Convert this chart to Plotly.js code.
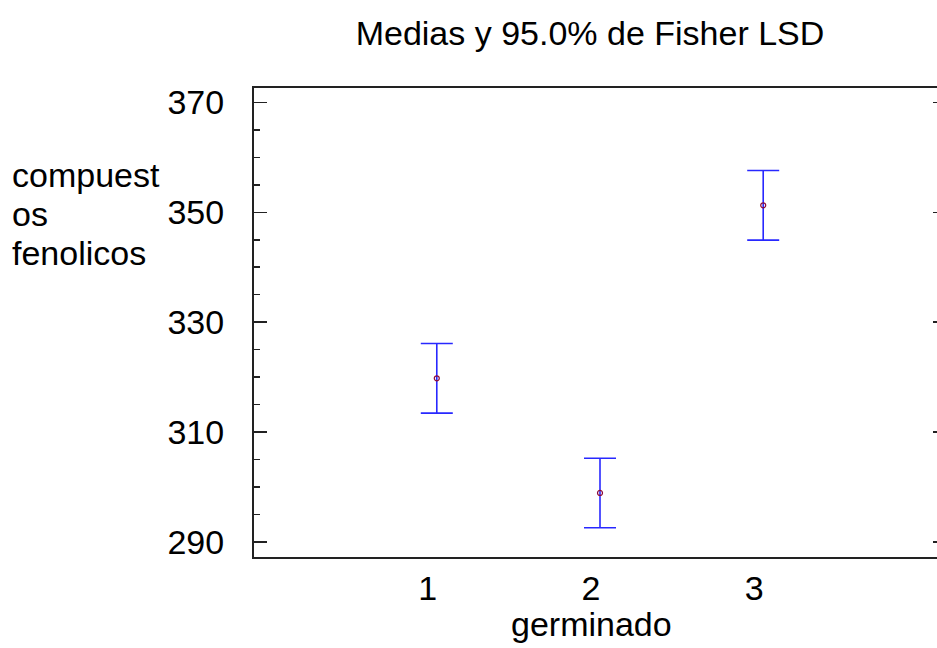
<!DOCTYPE html>
<html>
<head>
<meta charset="utf-8">
<script src="https://cdn.plot.ly/plotly-3.0.1.min.js"></script>
<style>
html,body{margin:0;padding:0;overflow:hidden;background:#fff;width:937px;height:648px;}
#chart{width:950px;height:648px;}
</style>
</head>
<body>
<div id="chart"></div>
<script>
// Data
const groups = [1, 2, 3];
const groupLabels = ["1", "2", "3"];
const means = [319.8, 298.95, 351.27];
const lsdHalf = [6.33, 6.32, 6.33];
const yTicks = [290, 310, 330, 350, 370];
const yTitleLines = ["compuest", "os", "fenolicos"];

const F = "Liberation Sans, Arial, Helvetica, sans-serif";
const FS = 34;

const trace = {
  x: groups,
  y: means,
  type: "scatter",
  mode: "markers",
  marker: {symbol: "circle-open", size: 5, color: "#8b0a3a", line: {width: 1.2, color: "#8b0a3a"}},
  error_y: {type: "data", array: lsdHalf, visible: true, color: "rgb(40,40,255)", thickness: 1.6, width: 16},
  showlegend: false,
  hoverinfo: "skip"
};

const plotTop = 88, plotBottom = 557, plotLeft = 254, plotH = 469, plotW = 692;
const yTitleCenters = [175, 214, 253];

const annotations = [
  {
    text: "germinado", xref: "paper", yref: "paper",
    x: (591 - plotLeft) / plotW, y: -(624 - plotBottom) / plotH,
    xanchor: "center", yanchor: "middle", showarrow: false,
    font: {family: F, size: FS, color: "#000"}
  }
].concat(yTitleLines.map((t, i) => ({
  text: t, xref: "paper", yref: "paper",
  x: -(plotLeft - 10) / plotW, y: (plotBottom - yTitleCenters[i]) / plotH,
  xanchor: "left", yanchor: "middle", align: "left", showarrow: false,
  font: {family: F, size: FS, color: "#000"}
})));

const layout = {
  width: 950,
  height: 648,
  margin: {l: plotLeft, r: 4, t: plotTop, b: 648 - plotBottom},
  paper_bgcolor: "#fff",
  plot_bgcolor: "#fff",
  font: {family: F, color: "#000"},
  xaxis: {
    range: [-0.12, 4.12],
    tickmode: "array",
    tickvals: groups,
    ticktext: groupLabels,
    ticks: "",
    showgrid: false,
    zeroline: false,
    showline: true,
    linecolor: "#222",
    linewidth: 2,
    mirror: true,
    tickfont: {family: F, size: FS, color: "#000"},
    ticklabelshift: -9,
    ticklabelstandoff: 0
  },
  yaxis: {
    range: [287.3, 372.6],
    tickmode: "array",
    tickvals: yTicks,
    ticktext: yTicks.map(String),
    ticks: "inside",
    ticklen: 13,
    tickwidth: 1.5,
    tickcolor: "#222",
    minor: {dtick: 5, tick0: 290, ticks: "inside", ticklen: 6, tickwidth: 1.5, tickcolor: "#222", showgrid: false},
    showgrid: false,
    zeroline: false,
    showline: true,
    linecolor: "#222",
    linewidth: 2,
    mirror: "ticks",
    tickfont: {family: F, size: FS, color: "#000"},
    ticklabelstandoff: 21
  },
  title: {
    text: "Medias y 95.0% de Fisher LSD",
    font: {family: F, size: FS, color: "#000"},
    xref: "paper", x: (590 - plotLeft) / plotW, xanchor: "center",
    yref: "container", y: 1 - 33/648, yanchor: "middle"
  },
  annotations: annotations
};

Plotly.newPlot("chart", [trace], layout, {displayModeBar: false, staticPlot: true});
</script>
</body>
</html>
